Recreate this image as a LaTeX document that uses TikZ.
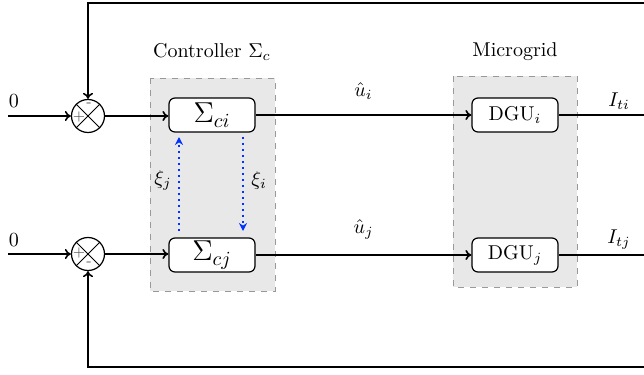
\documentclass[tikz,border=0pt]{standalone}
\usetikzlibrary{arrows.meta}
\begin{document}
\begin{tikzpicture}[x=0.5pt,y=-0.5pt,
  line width=0.8pt,
  blk/.style={draw,line width=0.6pt,rounded corners=3pt,fill=white,minimum width=43pt,minimum height=17pt,inner sep=1pt},
  grp/.style={draw=gray!80,dashed,fill=gray!18,line width=0.5pt},
  sumj/.style={draw,line width=0.6pt,circle,minimum size=16.5pt,inner sep=0pt,fill=white},
  sig/.style={font=\scriptsize,inner sep=0pt,gray!70!black},
  comm/.style={blue!80!cyan,dotted,line width=1pt,-{Stealth[length=4pt,width=4pt]}},
  flow/.style={-{To[length=3pt,width=5pt]}}]
\useasboundingbox (0,0) rectangle (644,375);
% groups
\draw[grp] (150,78) rectangle (275,291);
\draw[grp] (453,76) rectangle (577,287);
\node at (212,52) {Controller $\Sigma_c$};
\node at (515,52) {Microgrid};
% summing junctions
\node[sumj] (s1) at (88,116) {};
\node[sumj] (s2) at (88,254) {};
\draw[line width=0.5pt] (s1.north west) -- (s1.south east) (s1.north east) -- (s1.south west);
\draw[line width=0.5pt] (s2.north west) -- (s2.south east) (s2.north east) -- (s2.south west);
\node[sig] at (79,117) {$+$};
\node[sig] at (89,105) {-};
\node[sig] at (79,253) {$+$};
\node[sig] at (89,264) {-};
% blocks
\node[blk,font=\Large] (ci) at (212,115) {$\Sigma_{ci}$};
\node[blk,font=\Large] (cj) at (212,255) {$\Sigma_{cj}$};
\node[blk] (di) at (515,115) {DGU$_i$};
\node[blk] (dj) at (515,255) {DGU$_j$};
% inputs
\coordinate (in1) at (8,116);
\coordinate (in2) at (8,254);
\node at (14,101) {$0$};
\node at (14,240) {$0$};
\draw[flow] (in1) -- (s1);
\draw[flow] (in2) -- (s2);
\draw[flow] (s1) -- (s1 -| ci.west);
\draw[flow] (s2) -- (s2 -| cj.west);
\draw[flow] (ci) -- node[above=4pt] {$\hat{u}_i$} (di);
\draw[flow] (cj) -- node[above=4pt] {$\hat{u}_j$} (dj);
% outputs
\coordinate (o1) at (644,115);
\coordinate (o2) at (644,255);
\draw (di) -- (o1);
\draw (dj) -- (o2);
\node at (619,101) {$I_{ti}$};
\node at (619,240) {$I_{tj}$};
% feedback
\coordinate (t1) at (644,3);
\coordinate (t2) at (644,367);
\draw[flow] (t1) -- (88,3) -- (s1.north);
\draw[flow] (t2) -- (88,367) -- (s2.south);
% communication
\draw[comm] (179,231) -- (179,137);
\draw[comm] (243,137) -- (243,231);
\node at (163,180) {$\xi_j$};
\node at (259,180) {$\xi_i$};
\end{tikzpicture}
\end{document}
